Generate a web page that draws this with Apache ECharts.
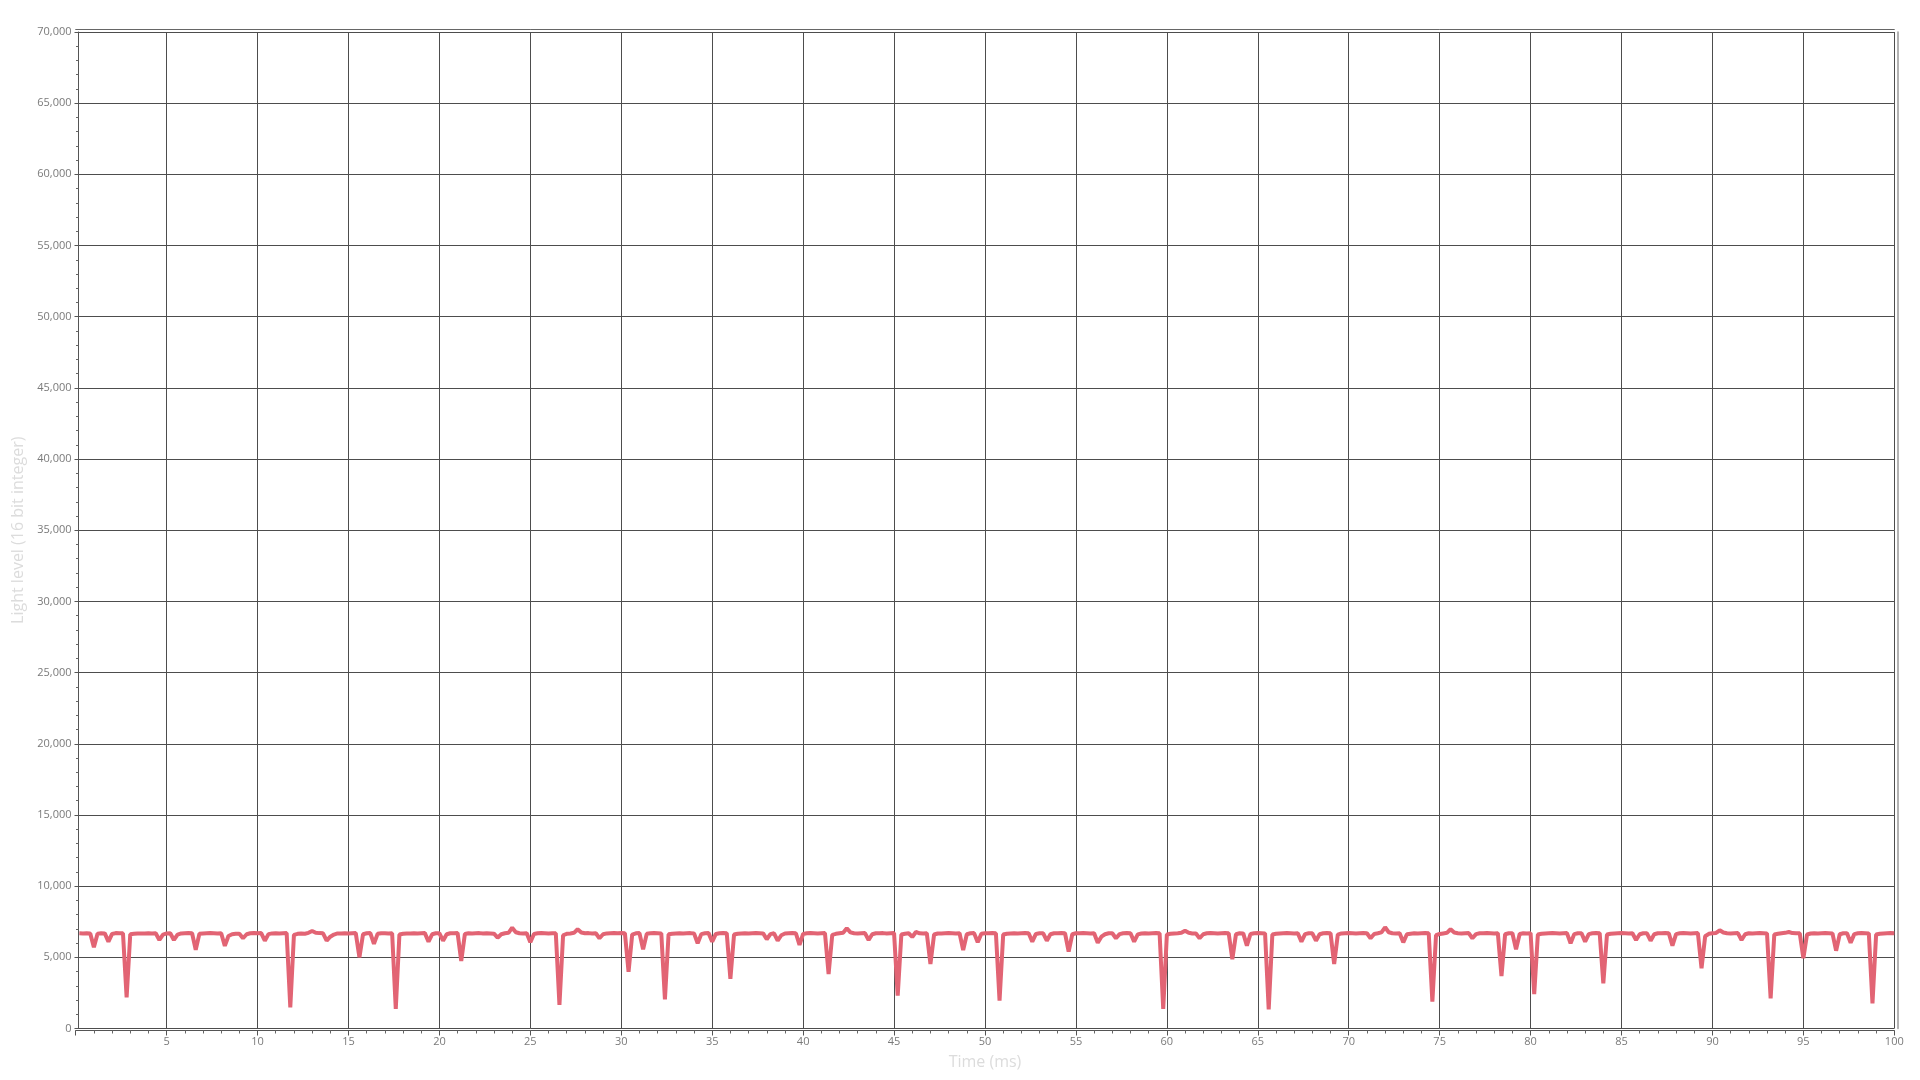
<!DOCTYPE html>
<html>
<head>
<meta charset="utf-8">
<script src="https://cdn.jsdelivr.net/npm/echarts@6/dist/echarts.min.js"></script>
<style>
html,body{margin:0;padding:0;background:#fff;}
#chart{width:1920px;height:1080px;}
</style>
</head>
<body>
<div id="chart"></div>
<script>
// Sampling of the light sensor (ms)
const sampleStart = 0.2;
const sampleInterval = 0.2;

// Light level readings, one row per 5 ms (25 samples each)
const lightLevel = [
  6690,6680,6690,6680,5700,6660,6690,6680,6100,6640,6700,6690,6690,2190,6620,6650,6670,6680,6670,6690,6680,6690,6220,6600,6680,
  6690,6220,6600,6680,6690,6700,6690,5520,6650,6680,6690,6700,6690,6680,6690,5800,6500,6620,6650,6660,6340,6620,6690,6700,6690,
  6700,6170,6630,6680,6690,6680,6690,6700,1490,6580,6650,6680,6660,6720,6850,6720,6700,6690,6170,6450,6600,6680,6670,6690,6680,
  6690,6700,5000,6620,6690,6700,5940,6650,6690,6690,6680,6690,1370,6600,6650,6670,6680,6690,6680,6690,6700,6100,6620,6690,6690,
  6170,6620,6690,6690,6700,4740,6640,6690,6680,6690,6700,6680,6690,6680,6660,6380,6620,6690,6720,7080,6760,6690,6680,6690,6055,
  6640,6690,6700,6690,6680,6690,6690,1650,6550,6650,6680,6720,6970,6740,6690,6700,6680,6690,6340,6620,6680,6690,6700,6690,6700,
  6690,3990,6600,6690,6700,5560,6650,6690,6700,6690,6680,2050,6620,6660,6680,6690,6680,6690,6700,6680,5990,6630,6690,6700,6100,
  6640,6690,6700,6690,3480,6600,6660,6680,6690,6680,6690,6700,6690,6680,6270,6630,6690,6170,6550,6670,6690,6700,6690,5870,6640,
  6690,6700,6690,6680,6690,6700,3830,6580,6650,6690,6730,7040,6750,6690,6680,6690,6700,6220,6620,6690,6690,6700,6680,6690,6700,
  2310,6600,6660,6690,6430,6780,6690,6680,6690,4530,6600,6670,6680,6690,6700,6690,6680,6690,5515,6620,6690,6700,6055,6650,6690,
  6690,6700,6690,1955,6600,6660,6680,6690,6680,6690,6700,6690,6100,6640,6690,6690,6170,6620,6690,6690,6700,6690,5400,6620,6690,
  6690,6700,6690,6680,6690,6030,6450,6620,6690,6690,6340,6630,6690,6700,6690,6100,6610,6670,6690,6680,6690,6700,6690,1370,6600,
  6650,6680,6690,6720,6870,6720,6680,6670,6340,6620,6690,6700,6690,6680,6690,6700,6690,4860,6620,6690,6680,5820,6640,6690,6700,
  6690,6680,1350,6600,6650,6680,6690,6700,6690,6680,6690,6100,6630,6690,6690,6170,6620,6690,6700,6690,4530,6600,6680,6690,6700,
  6690,6680,6690,6700,6690,6340,6640,6690,6750,7110,6760,6690,6680,6690,6055,6620,6660,6690,6680,6690,6700,6690,1885,6550,6640,
  6680,6720,6970,6740,6690,6680,6690,6700,6340,6630,6690,6690,6700,6690,6680,6690,3690,6620,6690,6690,5560,6640,6690,6680,6700,
  2420,6600,6660,6680,6690,6700,6690,6680,6690,6700,5990,6630,6690,6690,6100,6630,6690,6700,6690,3175,6600,6660,6680,6690,6700,
  6690,6680,6690,6220,6620,6690,6690,6170,6620,6690,6690,6700,6690,5820,6630,6690,6700,6690,6680,6690,6700,4230,6480,6650,6690,
  6710,6900,6740,6690,6680,6690,6700,6220,6620,6690,6680,6690,6700,6690,6680,2120,6600,6650,6690,6720,6780,6700,6690,6690,4930,
  6600,6670,6690,6680,6690,6700,6690,6680,5465,6620,6690,6690,6030,6630,6690,6700,6690,6680,1770,6600,6660,6680,6690,6700,6690
];

const xAxisName = 'Time (ms)';
const yAxisName = 'Light level (16 bit integer)';
const xRange = [0, 100];
const yRange = [0, 70000];
const xStep = 5;
const yStep = 5000;

const seriesData = lightLevel.map((v, i) => [+(sampleStart + i * sampleInterval).toFixed(1), v]);

const chart = echarts.init(document.getElementById('chart'), null, {renderer: 'canvas'});
const font = '"Open Sans", "Noto Sans", sans-serif';

chart.setOption({
  animation: false,
  backgroundColor: '#ffffff',
  grid: {left: 75.7, right: 25.7, top: 32, bottom: 51.5, containLabel: false},
  xAxis: [{
    type: 'value',
    min: xRange[0], max: xRange[1], interval: xStep,
    position: 'bottom',
    offset: 2,
    name: xAxisName,
    nameLocation: 'middle',
    nameGap: 24,
    nameTextStyle: {color: '#dcdcdc', fontSize: 16, fontFamily: font},
    axisLine: {show: true, onZero: false, lineStyle: {color: '#555', width: 1}},
    axisTick: {show: true, length: 5, lineStyle: {color: '#555'}},
    minorTick: {show: true, splitNumber: 5, length: 3, lineStyle: {color: '#666'}},
    axisLabel: {color: '#7a7a7a', fontSize: 11, fontFamily: font, margin: 6, showMinLabel: false},
    splitLine: {show: true, showMinLine: false, lineStyle: {color: '#4d4d4d', width: 1}},
    minorSplitLine: {show: false}
  }, {
    type: 'value',
    min: xRange[0], max: xRange[1], interval: xStep,
    position: 'top',
    offset: 2.5,
    axisLine: {show: true, onZero: false, lineStyle: {color: '#666', width: 1}},
    axisTick: {show: false},
    axisLabel: {show: false},
    splitLine: {show: false}
  }],
  yAxis: [{
    type: 'value',
    min: yRange[0], max: yRange[1], interval: yStep,
    position: 'left',
    offset: -2.8,
    name: yAxisName,
    nameLocation: 'middle',
    nameGap: 51,
    nameTextStyle: {color: '#dcdcdc', fontSize: 16, fontFamily: font},
    axisLine: {show: true, onZero: false, lineStyle: {color: '#555', width: 1}},
    axisTick: {show: true, length: 4, lineStyle: {color: '#555'}},
    minorTick: {show: true, splitNumber: 5, length: 2.5, lineStyle: {color: '#666'}},
    axisLabel: {color: '#7a7a7a', fontSize: 11, fontFamily: font, margin: 7,
      formatter: v => v.toLocaleString('en-US')},
    splitLine: {show: true, lineStyle: {color: '#4d4d4d', width: 1}}
  }, {
    type: 'value',
    min: yRange[0], max: yRange[1], interval: yStep,
    position: 'right',
    offset: 3.4,
    axisLine: {show: true, onZero: false, lineStyle: {color: '#9a9a9a', width: 1.5}},
    axisTick: {show: false},
    axisLabel: {show: false},
    splitLine: {show: false}
  }],
  series: [{
    type: 'line',
    data: seriesData,
    xAxisIndex: 0,
    yAxisIndex: 0,
    showSymbol: false,
    lineStyle: {color: '#e26474', width: 4},
    itemStyle: {color: '#e26474'}
  }]
});
</script>
</body>
</html>
